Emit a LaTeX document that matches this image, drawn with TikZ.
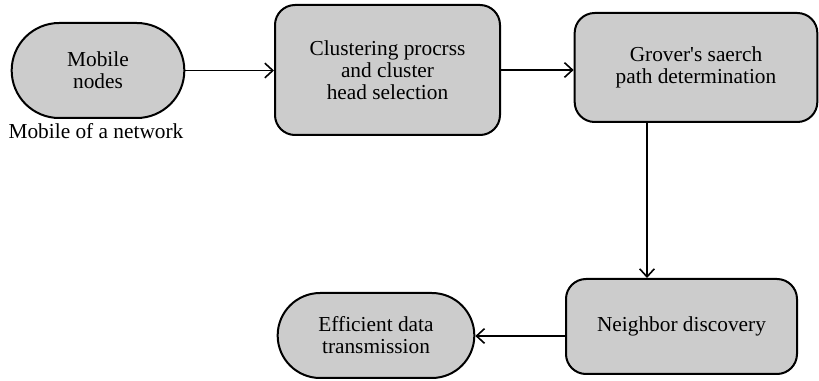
\documentclass[tikz,border=0pt]{standalone}
\usepackage{fontspec}
\setmainfont{Liberation Serif}
\usetikzlibrary{shapes.misc,arrows.meta,calc}
\definecolor{boxgray}{HTML}{CCCCCC}
\tikzset{
  base/.style={draw=black, line width=1.5pt, fill=boxgray, align=center, inner sep=2pt,
    font=\fontsize{16}{16.5}\selectfont},
  roundbox/.style={base, rectangle, rounded corners=15pt},
  pill/.style={base, rounded rectangle},
  conn/.style={line width=1.2pt, -{Straight Barb[length=6pt,width=11pt,line width=1.2pt]}},
  plain/.style={font=\fontsize{16}{16.5}\selectfont, inner sep=0pt}
}
\begin{document}
\begin{tikzpicture}[x=0.75pt,y=-0.75pt]
\useasboundingbox (0,0) rectangle (819,381);
\node[pill, minimum width=133.5pt, minimum height=71.25pt] (mobile) at (98,70.5) {Mobile\\nodes};
\node[plain] (mlabel) at (96,131) {Mobile of a network};
\node[roundbox, minimum width=168.75pt, minimum height=97.5pt] (clust) at (387.5,70) {Clustering procrss\\and cluster\\head selection};
\node[roundbox, minimum width=182pt, minimum height=81.75pt] (grover) at (696,67.5) {Grover\textquotesingle s saerch\\path determination};
\node[roundbox, minimum width=173.25pt, minimum height=71.25pt] (neigh) at (681.5,326.5) {Neighbor discovery};
\node[pill, minimum width=151.5pt, minimum height=63.75pt] (eff) at (376,335.5) {Efficient data\\transmission};
\coordinate (gx) at (647,0);
\coordinate (ny) at (0,336);
\draw[conn] (mobile.east) -- (mobile.east -| clust.west);
\draw[conn] (clust.east) -- (clust.east -| grover.west);
\draw[conn] (grover.south -| gx) -- (neigh.north -| gx);
\draw[conn] (neigh.west |- ny) -- (eff.east |- ny);
\end{tikzpicture}
\end{document}
